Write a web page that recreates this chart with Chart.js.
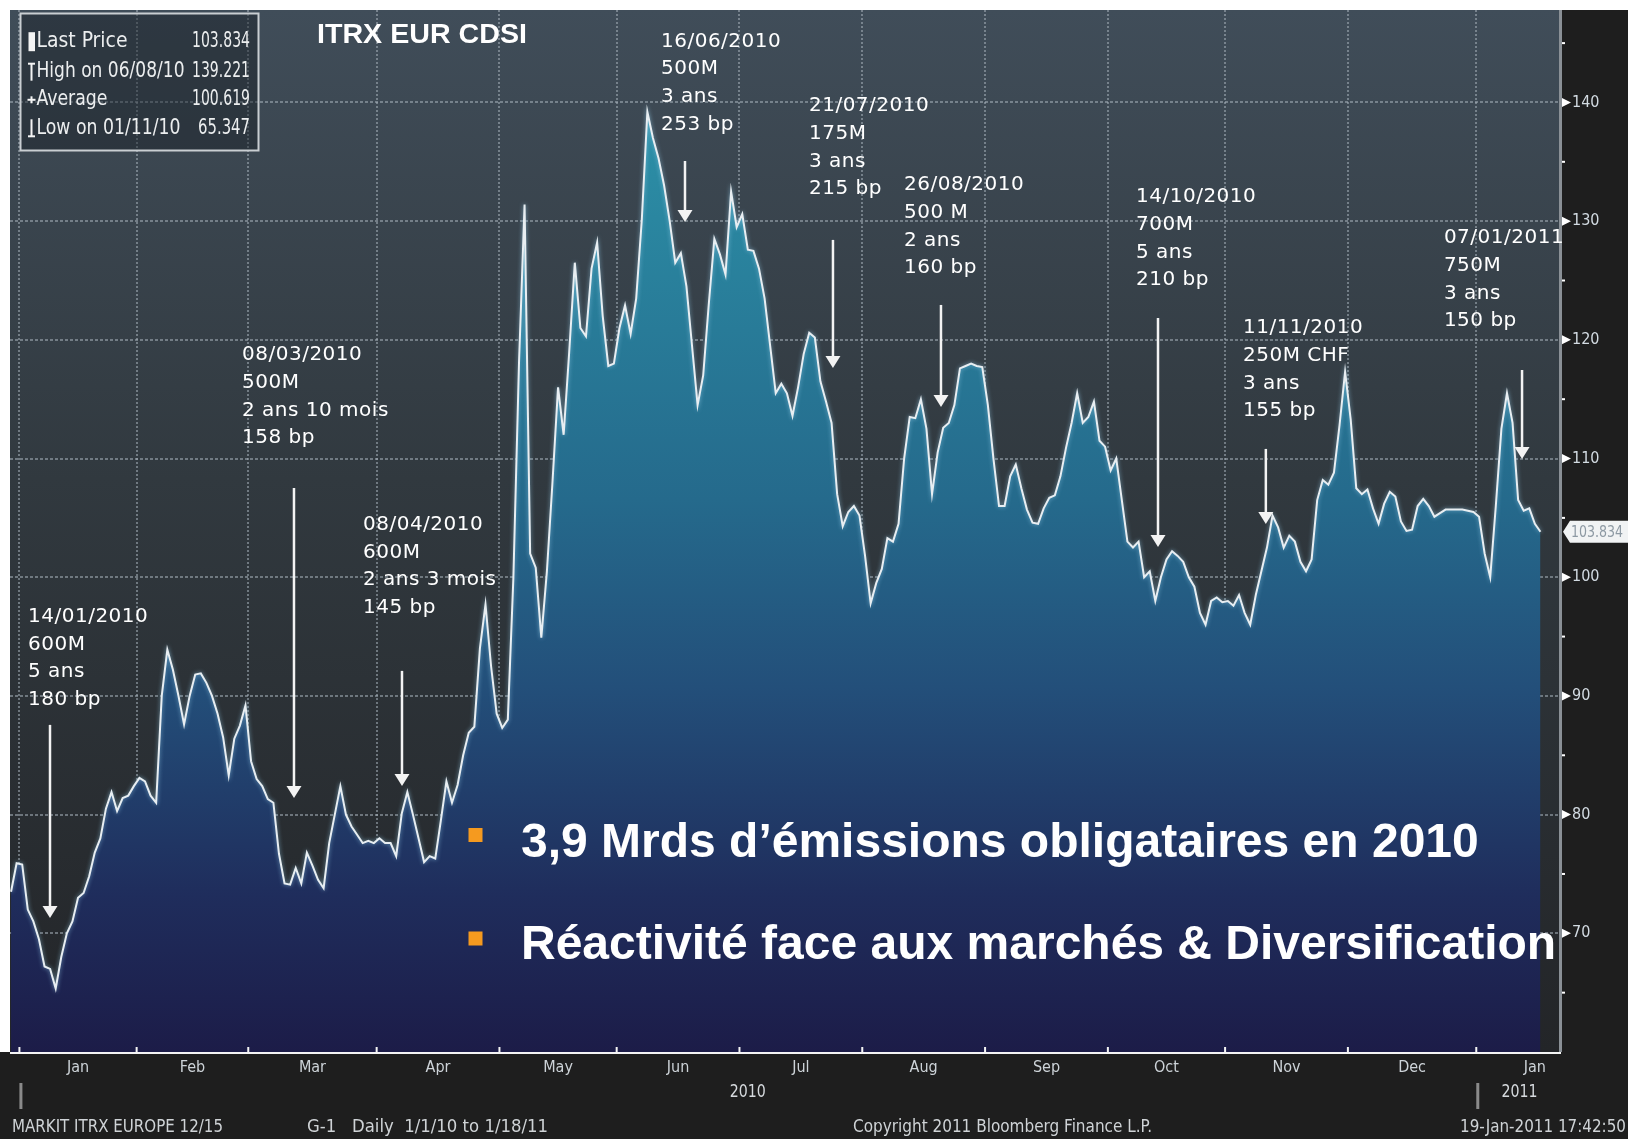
<!DOCTYPE html>
<html><head><meta charset="utf-8">
<script src="https://cdn.jsdelivr.net/npm/chart.js@4/dist/chart.umd.min.js"></script>
<style>html,body{margin:0;padding:0;background:#1e1e1e;overflow:hidden}canvas{display:block}</style>
</head><body>
<canvas id="c" width="1628" height="1139" style="width:1628px;height:1139px"></canvas>
<script>
// ---- data (weekday index; first value is two trading days before 1 Jan 2010) ----
const firstDayIndex = -2;
const values = [
 73.5,75.9,75.8,72.0,71.0,69.5,67.2,67.0,65.35,68.0,70.0,71.0,
 73.0,73.4,74.8,76.8,78.0,80.5,81.9,80.3,81.4,81.6,
 82.4,83.1,82.8,81.6,81.0,90.0,93.9,92.2,90.0,87.6,
 90.0,91.8,91.9,91.1,90.0,88.5,86.5,83.3,86.4,87.5,
 89.2,84.5,83.0,82.4,81.3,81.0,76.7,74.2,74.1,75.5,
 74.2,76.8,75.7,74.5,73.8,77.6,80.0,82.4,80.0,79.0,
 78.3,77.6,77.8,77.6,78.0,77.6,77.6,76.5,80.1,81.9,
 80.0,78.0,76.0,76.5,76.3,79.5,82.8,81.0,82.5,85.0,
 86.9,87.4,94.0,97.7,92.5,88.5,87.3,88.0,100.0,118.0,
 131.4,102.0,100.8,94.9,100.5,108.0,116.0,112.0,119.0,126.5,
 121.0,120.3,126.0,128.2,122.0,117.8,118.0,121.0,122.9,120.5,
 123.5,130.1,139.2,137.0,135.3,133.0,130.0,126.5,127.3,124.5,
 119.5,114.5,117.0,123.0,128.5,127.2,125.5,132.5,129.5,130.6,
 127.6,127.5,126.0,123.5,119.5,115.5,116.3,115.5,113.6,116.0,
 118.8,120.6,120.2,116.5,114.8,113.0,107.0,104.3,105.5,106.0,
 105.2,101.8,97.8,99.5,100.7,103.3,103.0,104.5,110.0,113.5,
 113.4,115.0,112.5,107.0,110.5,112.6,113.0,114.5,117.6,117.8,
 118.0,117.8,117.7,114.5,110.0,106.0,106.0,108.5,109.5,107.5,
 105.7,104.6,104.5,105.8,106.7,106.9,108.5,110.9,113.0,115.5,
 113.0,113.5,114.8,111.5,111.0,109.0,110.0,106.5,103.0,102.5,
 103.0,100.0,100.5,98.0,100.0,101.5,102.2,101.8,101.3,100.0,
 99.2,97.0,96.0,98.0,98.3,97.9,98.0,97.6,98.5,97.0,
 96.0,98.5,100.5,102.5,105.2,104.2,102.5,103.5,103.0,101.3,
 100.5,101.5,106.5,108.2,107.8,108.8,112.8,117.3,113.3,107.5,
 107.0,107.4,105.8,104.5,106.2,107.2,106.8,104.7,103.9,104.0,
 106.0,106.6,106.0,105.1,105.4,105.7,105.7,105.7,105.7,105.6,
 105.5,105.1,102.0,100.0,106.0,112.5,115.5,113.0,106.5,105.6,
 105.8,104.5,103.834
];
const monthNames = ['Jan','Feb','Mar','Apr','May','Jun','Jul','Aug','Sep','Oct','Nov','Dec','Jan'];
const monthStarts = [0,21,41,64,86,107,129,151,173,195,216,238,261,282];
const yearLabels = ['2010','2011'];
const yGridValues = [70,80,90,100,110,120,130,140];
const yMinorValues = [65,75,85,95,105,115,125,135,145];
const legendLabels = ['Last Price','High on 06/08/10','Average','Low on 01/11/10'];
const legendValues = ['103.834','139.221','100.619','65.347'];
const lastPrice = 103.834;
const chartTitle = 'ITRX EUR CDSI';
const footerTexts = ['MARKIT ITRX EUROPE 12/15','G-1   Daily  1/1/10 to 1/18/11','Copyright 2011 Bloomberg Finance L.P.','19-Jan-2011 17:42:50'];
const annoLines = [
 ['14/01/2010','600M','5 ans','180 bp'],
 ['08/03/2010','500M','2 ans 10 mois','158 bp'],
 ['08/04/2010','600M','2 ans 3 mois','145 bp'],
 ['16/06/2010','500M','3 ans','253 bp'],
 ['21/07/2010','175M','3 ans','215 bp'],
 ['26/08/2010','500 M','2 ans','160 bp'],
 ['14/10/2010','700M','5 ans','210 bp'],
 ['11/11/2010','250M CHF','3 ans','155 bp'],
 ['07/01/2011','750M','3 ans','150 bp']
];
const annoTextX = [1.04,39.38,61.05,114.44,140.95,157.97,199.54,218.7,254.7];
const annoTextY = [96.66,118.73,104.41,145.14,139.71,133.05,132.04,121.0,128.58];
const arrowX    = [4.98,48.69,68.04,118.74,145.25,164.6,203.48,222.8,268.7];
const arrowTop  = [87.56,107.52,92.11,135.07,128.42,122.94,121.84,110.81,117.46];
const arrowTip  = [71.30,81.41,82.42,129.93,117.63,114.35,102.55,104.49,109.97];
const bulletTexts = ['3,9 Mrds d\u2019émissions obligataires en 2010','Réactivité face aux marchés & Diversification'];

// ---- layout constants ----
const X_MIN = -2.186, X_MAX = 275.5, Y_MIN = 60, Y_MAX = 147.79;
const NARROW = "'Liberation Sans Narrow','DejaVu Sans Condensed','Arial Narrow','Liberation Sans',sans-serif";
const GRID = 'rgba(165,176,186,0.55)';

function drawFit(c, text, x, y, w, font, color, align) {
  c.save();
  c.font = font; c.fillStyle = color; c.textBaseline = 'middle'; c.textAlign = 'left';
  const m = c.measureText(text).width;
  const s = w / m;
  c.translate(align === 'right' ? x - w : (align === 'center' ? x - w / 2 : x), y);
  c.scale(s, 1);
  c.fillText(text, 0, 0);
  c.restore();
}
function zeroPad(s) { s.paddingTop = 0; s.paddingBottom = 0; s.paddingLeft = 0; s.paddingRight = 0; }

const deco = {
  id: 'deco',
  beforeDraw(chart) {
    const c = chart.ctx, a = chart.chartArea, W = chart.width, H = chart.height;
    c.save();
    c.fillStyle = '#1e1e1e'; c.fillRect(0, 0, W, H);
    c.fillStyle = '#ffffff'; c.fillRect(0, 0, W, a.top); c.fillRect(0, 0, a.left, a.bottom);
    const g = c.createLinearGradient(0, a.top, 0, a.bottom);
    g.addColorStop(0, '#404d59'); g.addColorStop(0.45, '#31393f'); g.addColorStop(1, '#232528');
    c.fillStyle = g; c.fillRect(a.left, a.top, a.right - a.left, a.bottom - a.top);
    c.restore();
  },
  beforeDatasetDraw(chart) {
    const c = chart.ctx; c.save();
    c.shadowColor = 'rgba(150,205,235,0.7)'; c.shadowBlur = 4;
  },
  afterDatasetDraw(chart) { chart.ctx.restore(); },
  afterDraw(chart) {
    const c = chart.ctx, a = chart.chartArea, xs = chart.scales.x, ys = chart.scales.y;
    c.save();
    // right axis
    c.fillStyle = '#8a9096'; c.fillRect(a.right - 1, a.top, 3, a.bottom - a.top);
    c.fillStyle = '#ffffff';
    yGridValues.forEach(v => {
      const y = ys.getPixelForValue(v);
      c.beginPath(); c.moveTo(a.right + 2, y - 4.5); c.lineTo(a.right + 11, y); c.lineTo(a.right + 2, y + 4.5); c.closePath(); c.fill();
    });
    yMinorValues.forEach(v => { const y = ys.getPixelForValue(v); c.fillRect(a.right + 2, y - 1, 3, 2); });
    // last price tag
    const ly = ys.getPixelForValue(lastPrice);
    c.beginPath(); c.moveTo(a.right + 3, ly); c.lineTo(a.right + 10, ly - 11); c.lineTo(chart.width, ly - 11);
    c.lineTo(chart.width, ly + 11); c.lineTo(a.right + 10, ly + 11); c.closePath();
    c.fillStyle = '#f1f3f4'; c.fill();
    drawFit(c, lastPrice.toFixed(3), a.right + 11, ly + 1, 52, "16px " + NARROW, '#8d99a3', 'left');
    // bottom axis
    c.fillStyle = '#f4f4f4'; c.fillRect(a.left, a.bottom, a.right - a.left + 1, 2);
    monthStarts.slice(0, 13).forEach(m => { const x = xs.getPixelForValue(m - 0.5); c.fillRect(x - 1, a.bottom - 5, 2, 5); });
    // year labels & separators
    const y2010 = xs.getPixelForValue((monthStarts[0] + monthStarts[12] - 1) / 2);
    const y2011 = xs.getPixelForValue((monthStarts[12] + X_MAX) / 2);
    drawFit(c, yearLabels[0], y2010, 1092, 36, "18px " + NARROW, '#d6dade', 'center');
    drawFit(c, yearLabels[1], y2011, 1092, 36, "18px " + NARROW, '#d6dade', 'center');
    c.fillStyle = '#8a8a8a';
    [monthStarts[0] - 0.5, monthStarts[12] - 0.5].forEach(m => { const x = xs.getPixelForValue(m); c.fillRect(x, 1083, 3, 26); });
    // footer
    drawFit(c, footerTexts[0], 12, 1127, 211, "18px " + NARROW, '#cfd3d6', 'left');
    drawFit(c, footerTexts[1], 307, 1127, 241, "18px " + NARROW, '#cfd3d6', 'left');
    drawFit(c, footerTexts[2], 853, 1127, 299, "18px " + NARROW, '#cfd3d6', 'left');
    drawFit(c, footerTexts[3], 1626, 1127, 166, "18px " + NARROW, '#cfd3d6', 'right');
    // legend box
    c.fillStyle = 'rgba(24,30,37,0.45)'; c.fillRect(20.5, 13.5, 238, 137);
    c.strokeStyle = '#c9ced2'; c.lineWidth = 2; c.strokeRect(20.5, 13.5, 238, 137);
    const rowY = [41.7, 71.7, 99.8, 128.3];
    const labW = [91, 148, 71, 144];
    const valW = [58, 58, 58, 52];
    legendLabels.forEach((t, i) => {
      drawFit(c, t, 36.5, rowY[i], labW[i], "21px " + NARROW, '#eceeef', 'left');
      drawFit(c, legendValues[i], 250, rowY[i], valW[i], "21px " + NARROW, '#eceeef', 'right');
    });
    c.fillStyle = '#f4f4f4';
    c.fillRect(28.5, rowY[0] - 9.5, 6.5, 19);
    c.fillRect(30.5, rowY[1] - 8, 2, 17); c.fillRect(28, rowY[1] - 9, 7, 2);
    c.fillRect(27.5, rowY[2] - 1, 8, 2); c.fillRect(30.5, rowY[2] - 3.5, 2, 7);
    c.fillRect(30.5, rowY[3] - 9, 2, 17); c.fillRect(28, rowY[3] + 7, 7, 2);
    // title
    drawFit(c, chartTitle, 317, 35, 210, "bold 28px 'Liberation Sans', Arial, sans-serif", '#ffffff', 'left');
    // annotations
    c.font = "20px 'DejaVu Sans', sans-serif";
    try { c.letterSpacing = '0.5px'; } catch (e) {}
    c.textBaseline = 'middle'; c.textAlign = 'left'; c.fillStyle = '#ffffff';
    annoLines.forEach((lines, i) => {
      const tx = xs.getPixelForValue(annoTextX[i]);
      const ty = ys.getPixelForValue(annoTextY[i]);
      lines.forEach((ln, k) => c.fillText(ln, tx, ty + k * 27.7));
    });
    try { c.letterSpacing = '0px'; } catch (e) {}
    c.strokeStyle = '#f3f3f3'; c.fillStyle = '#f3f3f3'; c.lineWidth = 2.5;
    arrowX.forEach((ax, i) => {
      const x = xs.getPixelForValue(ax), yt = ys.getPixelForValue(arrowTop[i]), yb = ys.getPixelForValue(arrowTip[i]);
      c.beginPath(); c.moveTo(x, yt); c.lineTo(x, yb - 10); c.stroke();
      c.beginPath(); c.moveTo(x - 7.5, yb - 12); c.lineTo(x + 7.5, yb - 12); c.lineTo(x, yb); c.closePath(); c.fill();
    });
    // bullets
    c.fillStyle = '#f59a1f';
    c.fillRect(468.5, 828, 14, 14);
    c.fillRect(468.5, 931.5, 14, 14);
    c.fillStyle = '#ffffff'; c.textBaseline = 'alphabetic';
    c.font = "bold 48px 'Liberation Sans', Arial, sans-serif";
    c.fillText(bulletTexts[0], 521, 856.5);
    c.fillText(bulletTexts[1], 521, 959);
    c.restore();
  }
};

const points = values.map((v, i) => ({ x: i + firstDayIndex, y: v }));

new Chart(document.getElementById('c'), {
  type: 'line',
  data: {
    datasets: [{
      data: points,
      borderColor: '#e8eef2',
      borderWidth: 2,
      pointRadius: 0,
      tension: 0,
      fill: 'start',
      backgroundColor: (ctx) => {
        const ch = ctx.chart, a = ch.chartArea;
        if (!a) return 'rgba(0,0,0,0)';
        const g = ch.ctx.createLinearGradient(0, a.top, 0, a.bottom);
        g.addColorStop(0, '#2f9bb0'); g.addColorStop(0.2, '#2a86a0'); g.addColorStop(0.47, '#256a8c');
        g.addColorStop(0.65, '#234f7a'); g.addColorStop(0.85, '#1f2d5c'); g.addColorStop(1, '#1c1c48');
        return g;
      }
    }]
  },
  options: {
    responsive: false, devicePixelRatio: 1, animation: false,
    layout: { padding: { top: 10, left: 10, right: 0, bottom: 0 } },
    plugins: { legend: { display: false }, tooltip: { enabled: false } },
    scales: {
      x: {
        type: 'linear', position: 'bottom', min: X_MIN, max: X_MAX, z: 1,
        afterBuildTicks: s => { s.ticks = monthStarts.slice(0, 13).map(m => ({ value: m - 0.5 })); },
        grid: { color: GRID, lineWidth: 2, drawTicks: false },
        border: { display: false, dash: [2, 2] },
        ticks: { display: false },
        afterFit: s => { s.height = 0; zeroPad(s); }
      },
      xm: {
        type: 'linear', position: 'bottom', min: X_MIN, max: X_MAX,
        afterBuildTicks: s => { s.ticks = monthNames.map((n, i) => ({ value: (monthStarts[i] + monthStarts[i + 1] - 1) / 2 })); },
        grid: { display: false, drawTicks: false },
        border: { display: false },
        ticks: { autoSkip: false, maxRotation: 0, color: '#cdd3d8', font: { family: NARROW, size: 16 }, padding: 6, callback: (v, i) => monthNames[i] },
        afterFit: s => { s.height = 87; zeroPad(s); }
      },
      y: {
        type: 'linear', position: 'right', min: Y_MIN, max: Y_MAX, z: 1,
        afterBuildTicks: s => { s.ticks = yGridValues.map(v => ({ value: v })); },
        grid: { color: GRID, lineWidth: 2, drawTicks: false },
        border: { display: false, dash: [3, 2] },
        ticks: { color: '#d3dbe2', font: { family: NARROW, size: 16 }, padding: 12, callback: v => String(v) },
        afterFit: s => { s.width = 68; zeroPad(s); }
      }
    }
  },
  plugins: [deco]
});
</script>
</body></html>
